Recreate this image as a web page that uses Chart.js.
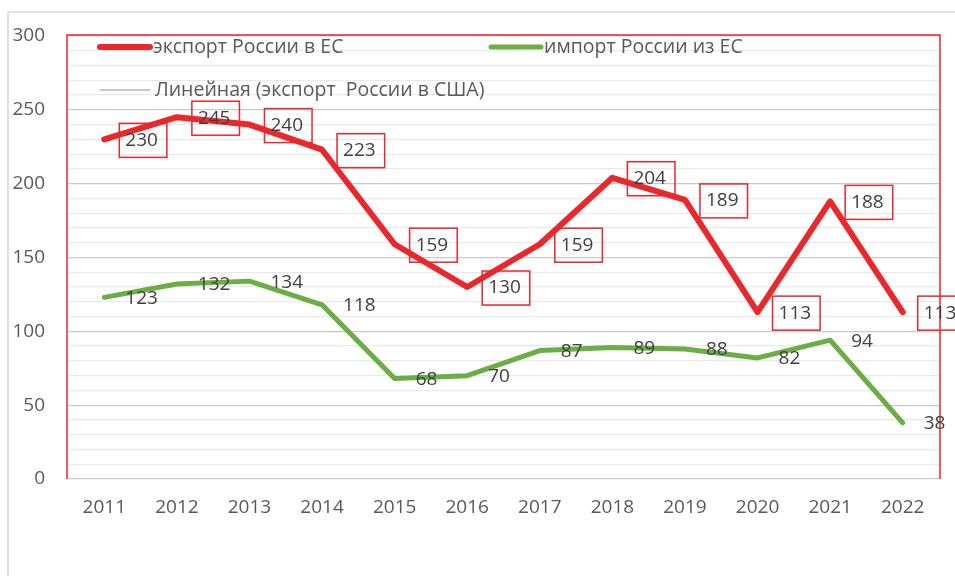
<!DOCTYPE html>
<html>
<head>
    <title>Экспорт и импорт России</title>
    <style>
        html, body { margin: 0; padding: 0; background: #fff; }
        #wrap { position: relative; width: 955px; height: 576px; }
    </style>
    <script src="https://cdn.jsdelivr.net/npm/chart.js@4"></script>
</head>
<body>
    <div id="wrap"><canvas id="tradeChart" width="955" height="576"></canvas></div>

    <script>
        // Data
        const years = ['2011', '2012', '2013', '2014', '2015', '2016', '2017', '2018', '2019', '2020', '2021', '2022'];
        const exportToEU = [230, 245, 240, 223, 159, 130, 159, 204, 189, 113, 188, 113];
        const importFromEU = [123, 132, 134, 118, 68, 70, 87, 89, 88, 82, 94, 38];
        const seriesNames = ['экспорт России в ЕС', 'импорт России из ЕС', 'Линейная (экспорт  России в США)'];

        const RED = '#ea272b';
        const GREEN = '#6cae46';
        const TEXT = '#595959';
        const LABEL = '#404040';

        Chart.defaults.font.family = '"Open Sans", "Noto Sans", sans-serif';
        Chart.defaults.font.size = 19;
        Chart.defaults.color = TEXT;

        // frame round the whole chart and the red border of the plot area
        const framePlugin = {
            id: 'frame',
            beforeDraw(chart) {
                const c = chart.ctx;
                c.save();
                c.strokeStyle = '#d9d9d9';
                c.lineWidth = 1.5;
                c.beginPath();
                c.moveTo(8, 576);
                c.lineTo(8, 12);
                c.lineTo(955, 12);
                c.stroke();
                c.restore();
            },
            beforeDatasetsDraw(chart) {
                const a = chart.chartArea;
                const c = chart.ctx;
                c.save();
                c.strokeStyle = RED;
                c.lineWidth = 1.5;
                c.beginPath();
                c.moveTo(a.left - 1, a.bottom);
                c.lineTo(a.left - 1, a.top - 1);
                c.lineTo(a.right + 1, a.top - 1);
                c.lineTo(a.right + 1, a.bottom);
                c.stroke();
                c.restore();
            }
        };

        // legend drawn inside the plot area like in the original
        const legendPlugin = {
            id: 'innerLegend',
            afterDatasetsDraw(chart) {
                const c = chart.ctx;
                const items = [
                    { x: 100, y: 47, ds: chart.data.datasets[0] },
                    { x: 491, y: 47, ds: chart.data.datasets[1] },
                    { x: 100, y: 90, ds: chart.data.datasets[2] }
                ];
                c.save();
                c.font = '19.5px "Open Sans", "Noto Sans", sans-serif';
                c.textBaseline = 'middle';
                items.forEach(it => {
                    c.strokeStyle = it.ds.borderColor;
                    c.lineWidth = it.ds.borderWidth;
                    c.lineCap = it.ds.borderWidth > 2 ? 'round' : 'butt';
                    c.beginPath();
                    c.moveTo(it.x, it.y);
                    c.lineTo(it.x + 50, it.y);
                    c.stroke();
                    c.fillStyle = TEXT;
                    c.fillText(it.ds.label, it.x + (it.ds.borderWidth > 2 ? 53 : 55), it.y);
                });
                c.restore();
            }
        };

        // value labels to the right of each point, red series in boxes
        const labelPlugin = {
            id: 'valueLabels',
            afterDatasetsDraw(chart) {
                const c = chart.ctx;
                c.save();
                c.font = '19px "Open Sans", "Noto Sans", sans-serif';
                c.textBaseline = 'middle';
                c.textAlign = 'left';
                [0, 1].forEach(i => {
                    const meta = chart.getDatasetMeta(i);
                    const values = chart.data.datasets[i].data;
                    meta.data.forEach((pt, j) => {
                        const txt = String(values[j]);
                        const tx = pt.x + 21;
                        const ty = pt.y + 1;
                        if (i === 0) {
                            const w = c.measureText(txt).width;
                            c.strokeStyle = RED;
                            c.lineWidth = 1.5;
                            c.strokeRect(pt.x + 15, pt.y - 16, w + 15, 34);
                        }
                        c.fillStyle = LABEL;
                        c.fillText(txt, tx, ty);
                    });
                });
                c.restore();
            }
        };

        new Chart(document.getElementById('tradeChart'), {
            type: 'line',
            data: {
                labels: years,
                datasets: [
                    {
                        label: seriesNames[0],
                        data: exportToEU,
                        borderColor: RED,
                        borderWidth: 6,
                        borderJoinStyle: 'round',
                        borderCapStyle: 'round',
                        pointRadius: 0,
                        tension: 0
                    },
                    {
                        label: seriesNames[1],
                        data: importFromEU,
                        borderColor: GREEN,
                        borderWidth: 5,
                        borderJoinStyle: 'round',
                        borderCapStyle: 'round',
                        pointRadius: 0,
                        tension: 0
                    },
                    {
                        // trendline of a series that is not plotted: legend entry only
                        label: seriesNames[2],
                        data: [],
                        borderColor: '#8c8c8c',
                        borderWidth: 1,
                        pointRadius: 0
                    }
                ]
            },
            options: {
                responsive: false,
                animation: false,
                layout: { padding: { top: 36, right: 16, bottom: 0, left: 0 } },
                plugins: {
                    legend: { display: false },
                    tooltip: { enabled: false }
                },
                scales: {
                    x: {
                        offset: true,
                        grid: { display: false, drawTicks: false },
                        border: { display: false },
                        ticks: { padding: 17, color: TEXT, font: { size: 19 }, maxRotation: 0 },
                        afterFit(scale) { scale.height = 97; }
                    },
                    y: {
                        min: 0,
                        max: 300,
                        border: { display: false },
                        grid: {
                            drawTicks: false,
                            lineWidth: 1.2,
                            color: ctx => (ctx.tick && ctx.tick.value % 50 === 0) ? '#c9c9c9' : '#e9e9e9'
                        },
                        ticks: {
                            stepSize: 10,
                            autoSkip: false,
                            padding: 23,
                            color: TEXT,
                            font: { size: 19 },
                            callback: v => (v % 50 === 0 ? v : '')
                        },
                        afterFit(scale) { scale.width = 68; }
                    }
                }
            },
            plugins: [framePlugin, legendPlugin, labelPlugin]
        });
    </script>
</body>
</html>
